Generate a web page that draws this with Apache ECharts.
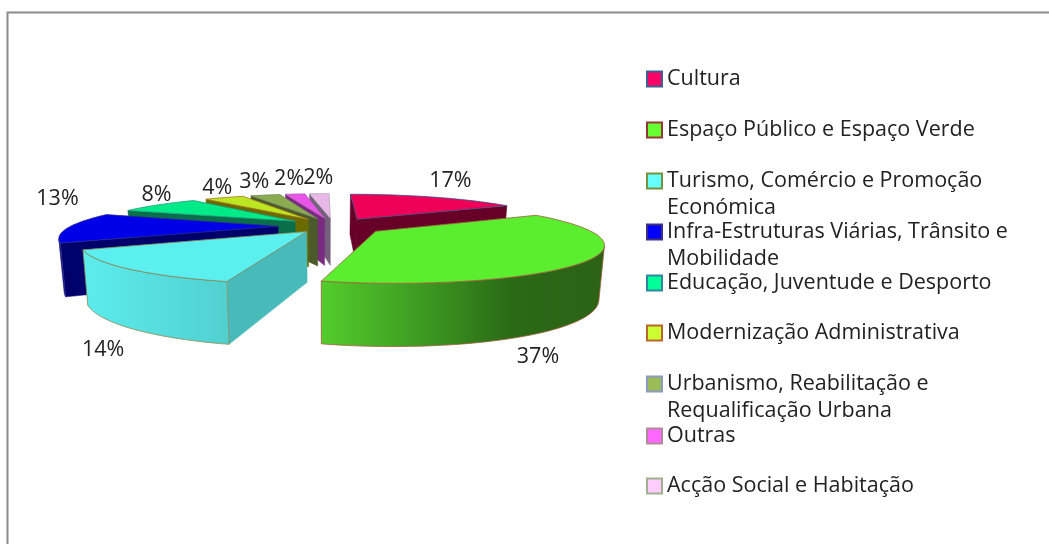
<!DOCTYPE html><html><head><meta charset="utf-8"><style>html,body{margin:0;background:#fff}#c{width:1049px;height:544px}</style><script src="https://cdn.jsdelivr.net/npm/echarts@6/dist/echarts.min.js"></script></head><body><div id="c"></div><script>
const categories=["Cultura","Espaço Público e Espaço Verde","Turismo, Comércio e Promoção\nEconómica","Infra-Estruturas Viárias, Trânsito e\nMobilidade","Educação, Juventude e Desporto","Modernização Administrativa","Urbanismo, Reabilitação e\nRequalificação Urbana","Outras","Acção Social e Habitação"];
const values=[17,37,14,13,8,4,3,2,2];
const topColors=["#ee0058","#5aee2e","#5cefef","#0000e8","#00ea88","#bde622","#8aab50","#e855e8","#e8b8e8"];
const wallColors=["#660026","#2f8a1c","#48baba","#00006a","#0a6e4a","#6b6a00","#4a5a2a","#7a2a80","#74607c"];
const rimStops=[null,["#52cc2b","#3f9e22","#2a6a16","#2c6215"],["#5cecec","#52d0d0"],["#00006a","#00006a"],null,null,null,null,null];
const edgeColors=["#3d4f86","#a0603c","#8c8c58","#2a2a90","#1f9c80","#a87820","#76885a","#b060b0","#b8a8b8"];
const legendColors=["#ff0066","#66ff33","#66ffff","#0000ff","#00ff99","#ccff33","#9bbb59","#ff66ff","#ffccff"];
const legendBorders=["#3f5f8f","#953735","#76923c","#403080","#31859c","#b8662a","#8a9cc0","#b08a9a","#a0b090"];
const legendCenters=[79,130,181,232,283,333,384,436,486];
const explodeFactor=[1,1.02,.84,1.13,1,1,1,1,1];
const labelNudge=[[17,-16],[-53,98],[-24,81],[-11,-29],[-2,-10],[-7,-10],[-11,-13],[-6,-15],[-1,-16]];
const FONT='"Open Sans"',LH=27;
const VX=325.36,HY=95.23,K=779.3,M=492.2,D=3.765,E=.238,DL=-.098,CX=.041;
const rad=d=>d*Math.PI/180,total=values.reduce((a,b)=>a+b,0);
const starts=[];let acc=0;values.forEach(v=>{starts.push(acc/total*360);acc+=v});
const ends=starts.map((s,i)=>s+values[i]/total*360),mids=starts.map((s,i)=>(s+ends[i])/2);
function world(i,th,r){const m=rad(mids[i]+DL),t=rad(th+DL),e=E*explodeFactor[i];return[CX+e*Math.sin(m)+r*Math.sin(t),e*Math.cos(m)+r*Math.cos(t)]}
function top3(i,th,r){const[X,Y]=world(i,th,r),w=Y+D;return[VX+K*X/w,HY+M/w,w]}
function bot3(i,th,r){const p=top3(i,th,r);return[VX+(p[0]-VX)*.98,p[1]+257/(p[2]+1.45)]}
const side=(a,b,c)=>(b[0]-a[0])*(c[1]-a[1])-(b[1]-a[1])*(c[0]-a[0]);
const midp=(a,b)=>[(a[0]+b[0])/2,(a[1]+b[1])/2];
function facing(a,b,a2,b2,inner){return side(a,b,inner)*side(a,b,midp(a2,b2))<0}
function renderSlice(params,api){
 const i=order[params.seriesIndex],children=[];
 const s=starts[i],e=ends[i],A=top3(i,0,0),A2=bot3(i,0,0),n=Math.max(8,Math.round((e-s)/2));
 const rim=[],rim2=[];for(let t=0;t<=n;t++){const th=s+(e-s)*t/n;rim.push(top3(i,th,1).slice(0,2));rim2.push(bot3(i,th,1))}
 const wallStyle={fill:wallColors[i],stroke:wallColors[i],lineWidth:.5};
 [[rim[0],rim2[0]],[rim[n],rim2[n]]].forEach(([R,R2],j)=>{const other=j?rim[0]:rim[n];
  if(facing(A,R,A2,R2,other))children.push({type:'polygon',shape:{points:[A.slice(0,2),R,R2,A2]},style:wallStyle})});
 const poly=[],poly2=[];for(let t=0;t<n;t++){if(facing(rim[t],rim[t+1],rim2[t],rim2[t+1],A)){poly.push(rim[t],rim[t+1]);poly2.push(rim2[t],rim2[t+1])}}
 if(poly.length){const xs=poly.map(p=>p[0]),x0=Math.min(...xs),x1=Math.max(...xs),st=rimStops[i];
  const fill=st?{type:'linear',x:x0,y:0,x2:x1,y2:0,global:true,colorStops:st.map((c,j)=>({offset:j/(st.length-1),color:c}))}:wallColors[i];
  children.push({type:'polygon',shape:{points:poly.concat(poly2.slice().reverse())},style:{fill,stroke:edgeColors[i],lineWidth:.8}})}
 children.push({type:'polygon',shape:{points:[A.slice(0,2)].concat(rim)},style:{fill:topColors[i],stroke:edgeColors[i],lineWidth:.8}});
 const L=top3(i,mids[i],1);
 children.push({type:'text',x:L[0]+labelNudge[i][0],y:L[1]+labelNudge[i][1],z2:100,style:{text:api.value(0)+'%',fill:'#222',font:'21.5px '+FONT,align:'center',verticalAlign:'middle'}});
 return{type:'group',children}
}
const order=values.map((v,i)=>i).sort((a,b)=>Math.cos(rad(mids[b]))-Math.cos(rad(mids[a])));
const ch=echarts.init(document.getElementById('c'));
ch.setOption({animation:false,backgroundColor:'#fff',
 graphic:[{type:'polyline',shape:{points:[[7.5,544],[7.5,12.5],[1049,12.5]]},style:{stroke:'#8c8c8c',lineWidth:2,fill:'none'}}],
 legend:categories.map((c,i)=>{const two=c.includes('\n');return{data:[c],orient:'vertical',left:646,top:legendCenters[i]-(two?LH*1.5:LH/2),padding:0,itemWidth:15,itemHeight:15,itemGap:3,icon:'rect',selectedMode:false,
  formatter:n=>n.includes('\n')?'\n'+n:n,itemStyle:{color:legendColors[i],borderColor:legendBorders[i],borderWidth:2},
  textStyle:{fontFamily:FONT,fontSize:21.5,color:'#222',lineHeight:LH}}}),
 series:order.map(i=>({type:'custom',name:categories[i],coordinateSystem:'none',renderItem:renderSlice,data:[values[i]],itemStyle:{color:legendColors[i]},silent:true,clip:false}))
});
</script></body></html>
